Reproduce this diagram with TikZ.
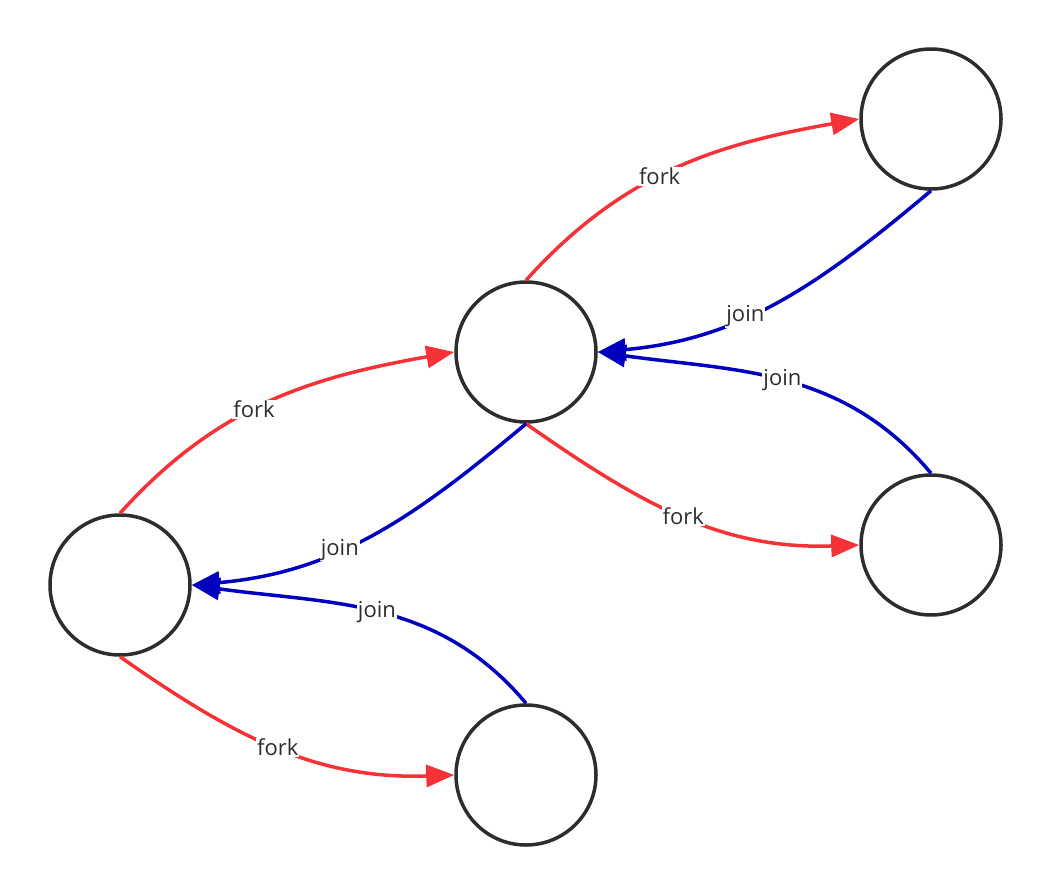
\documentclass[tikz,border=0pt]{standalone}
\usepackage{fontspec}
\setmainfont{Open Sans}
\usetikzlibrary{arrows.meta}
\definecolor{forkred}{RGB}{245,50,55}
\definecolor{joinblue}{RGB}{0,0,190}
\definecolor{ink}{RGB}{45,45,45}

\begin{document}
\begin{tikzpicture}[x=1pt, y=-1pt, >={Triangle[length=28pt,width=22pt]},
state/.style={circle, draw=ink, line width=3.5pt, minimum size=140pt, inner sep=0pt},
forkedge/.style={->, draw=forkred, line width=3.5pt},
joinedge/.style={->, draw=joinblue, line width=3.5pt},
lbl/.style={fill=white, text=ink, inner sep=1pt, font=\fontsize{22}{22}\selectfont}]
\useasboundingbox (0,0) rectangle (1052,896);
% states
\node [state] (a) at (120,585) {};
\node [state] (b) at (526,352) {};
\node [state] (c) at (931,119) {};
\node [state] (d) at (931,545) {};
\node [state] (e) at (526,775) {};

% forks
\draw [forkedge] (a.north) to[out=48, in=190] node[lbl, pos=0.45] {fork} (b.west);
\draw [forkedge] (b.north) to[out=48, in=190] node[lbl, pos=0.45] {fork} (c.west);
\draw [forkedge] (b.south) to[out=-35, in=182] node[lbl, pos=0.5] {fork} (d.west);
\draw [forkedge] (a.south) to[out=-35, in=182] node[lbl, pos=0.5] {fork} (e.west);

% joins
\draw [joinedge] (c.south) to[out=220, in=5] node[lbl, pos=0.6] {join} (b.east);
\draw [joinedge] (d.north) to[out=130, in=-8] node[lbl, pos=0.5] {join} (b.east);
\draw [joinedge] (b.south) to[out=220, in=5] node[lbl, pos=0.6] {join} (a.east);
\draw [joinedge] (e.north) to[out=130, in=-8] node[lbl, pos=0.5] {join} (a.east);
\end{tikzpicture}
\end{document}
